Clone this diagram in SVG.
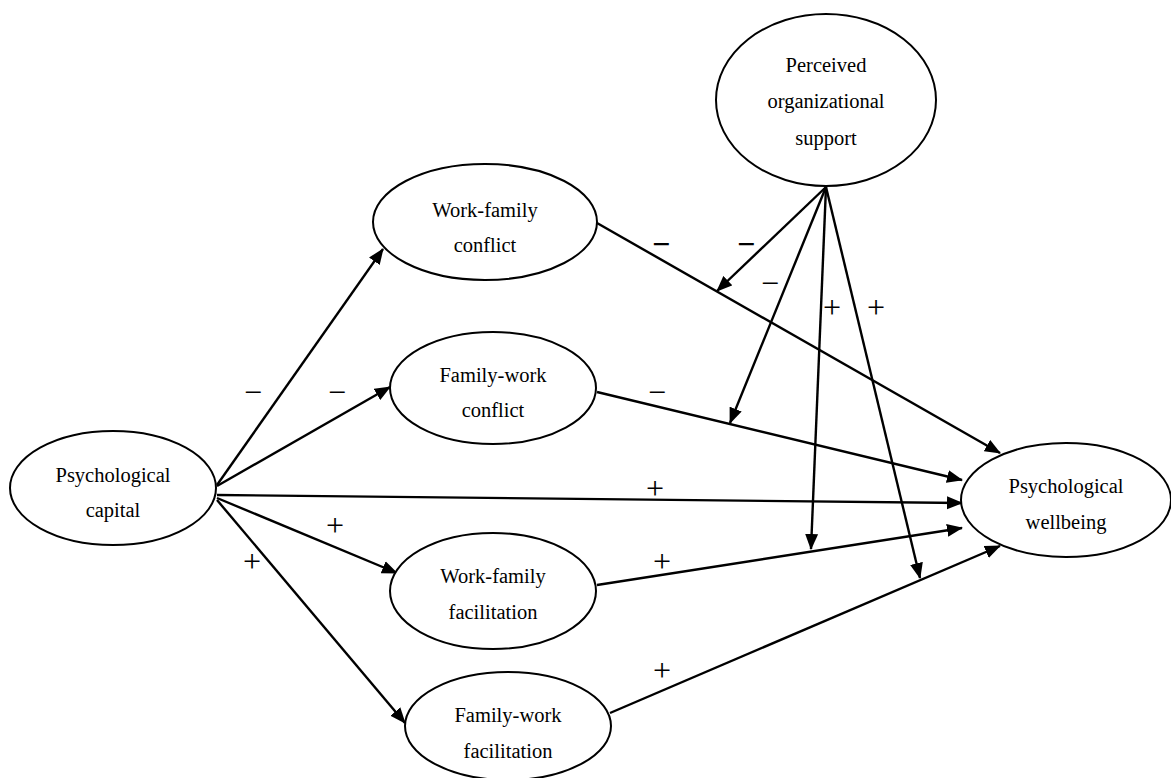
<svg xmlns="http://www.w3.org/2000/svg" width="1171" height="778" viewBox="0 0 1171 778">
<style>
.node ellipse{fill:#fff;stroke:#000;stroke-width:2}
.lbl{font-family:'Liberation Serif','DejaVu Serif',serif;font-size:20.5px;fill:#000;text-anchor:middle}
.conn line{stroke:#000;stroke-width:2.4;fill:none}
.arr{marker-end:url(#ah)}
.sign{font-family:'Liberation Serif','DejaVu Serif',serif;font-size:32px;fill:#000;text-anchor:middle}
.bold{font-weight:bold}
</style>
<defs>
<marker id="ah" markerUnits="userSpaceOnUse" markerWidth="16" markerHeight="14" refX="15" refY="6.5" orient="auto" viewBox="0 0 16 13">
<path d="M0,0 L16,6.5 L0,13 z" fill="#000"/>
</marker>
</defs>
<rect width="1171" height="778" fill="#fff"/>
<g id="connectors" class="conn">
<line class="arr" x1="217" y1="485" x2="383" y2="249"/>
<line class="arr" x1="217" y1="486" x2="390" y2="387"/>
<line class="arr" x1="217" y1="495" x2="962" y2="503"/>
<line class="arr" x1="217" y1="498" x2="397" y2="573"/>
<line class="arr" x1="217" y1="500" x2="405" y2="723"/>
<line class="arr" x1="597" y1="223" x2="1000" y2="453"/>
<line class="arr" x1="597" y1="392" x2="962" y2="480"/>
<line class="arr" x1="597" y1="585" x2="962" y2="528"/>
<line class="arr" x1="610" y1="713" x2="1000" y2="546"/>
<line class="arr" x1="826" y1="187" x2="717" y2="291"/>
<line class="arr" x1="826" y1="187" x2="730" y2="423"/>
<line class="arr" x1="826" y1="187" x2="811" y2="549"/>
<line class="arr" x1="826" y1="187" x2="920" y2="578"/>
</g>
<g id="signs" font-family="Liberation Serif, DejaVu Serif, serif">
<text class="sign" x="253" y="403">−</text>
<text class="sign" x="337" y="403">−</text>
<text class="sign" x="335" y="536">+</text>
<text class="sign" x="252" y="572">+</text>
<text class="sign" x="655" y="499">+</text>
<text class="sign" x="662" y="572">+</text>
<text class="sign" x="662" y="681">+</text>
<text class="sign bold" x="661" y="255">−</text>
<text class="sign bold" x="746" y="255">−</text>
<text class="sign" x="770" y="294">−</text>
<text class="sign" x="657" y="403">−</text>
<text class="sign" x="832" y="318">+</text>
<text class="sign" x="876" y="318">+</text>
</g>
<g id="node-pos" class="node" font-family="Liberation Serif, DejaVu Serif, serif">
<ellipse cx="826" cy="100" rx="110" ry="86"/>
<text class="lbl" x="826" y="72">Perceived</text>
<text class="lbl" x="826" y="108">organizational</text>
<text class="lbl" x="826" y="145">support</text>
</g>
<g id="node-wfc" class="node" font-family="Liberation Serif, DejaVu Serif, serif">
<ellipse cx="485" cy="222" rx="112" ry="58"/>
<text class="lbl" x="485" y="217">Work-family</text>
<text class="lbl" x="485" y="252">conflict</text>
</g>
<g id="node-fwc" class="node" font-family="Liberation Serif, DejaVu Serif, serif">
<ellipse cx="493" cy="388" rx="103" ry="56"/>
<text class="lbl" x="493" y="382">Family-work</text>
<text class="lbl" x="493" y="417">conflict</text>
</g>
<g id="node-pc" class="node" font-family="Liberation Serif, DejaVu Serif, serif">
<ellipse cx="113" cy="488" rx="103" ry="57"/>
<text class="lbl" x="113" y="482">Psychological</text>
<text class="lbl" x="113" y="517">capital</text>
</g>
<g id="node-wff" class="node" font-family="Liberation Serif, DejaVu Serif, serif">
<ellipse cx="493" cy="591" rx="103" ry="58"/>
<text class="lbl" x="493" y="583">Work-family</text>
<text class="lbl" x="493" y="619">facilitation</text>
</g>
<g id="node-fwf" class="node" font-family="Liberation Serif, DejaVu Serif, serif">
<ellipse cx="508" cy="726" rx="103" ry="54"/>
<text class="lbl" x="508" y="722">Family-work</text>
<text class="lbl" x="508" y="758">facilitation</text>
</g>
<g id="node-pw" class="node" font-family="Liberation Serif, DejaVu Serif, serif">
<ellipse cx="1066" cy="500" rx="105" ry="57"/>
<text class="lbl" x="1066" y="493">Psychological</text>
<text class="lbl" x="1066" y="529">wellbeing</text>
</g>
</svg>
